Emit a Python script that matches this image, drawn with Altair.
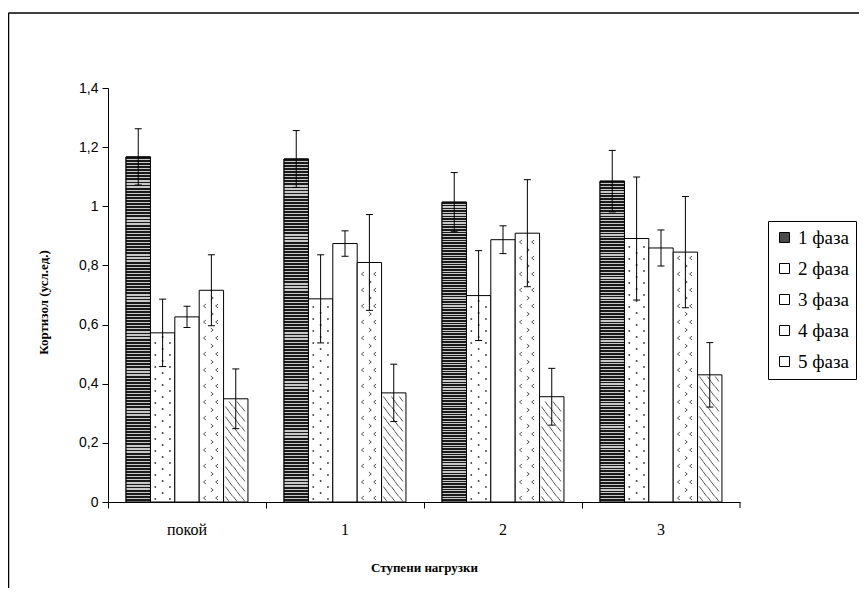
import altair as alt
import pandas as pd

# ---------------- data ----------------
stages = ["покой", "1", "2", "3"]
phases = ["1 фаза", "2 фаза", "3 фаза", "4 фаза", "5 фаза"]

phase1_mean = [1.167, 1.160, 1.014, 1.085]
phase2_mean = [0.572, 0.687, 0.698, 0.891]
phase3_mean = [0.626, 0.874, 0.887, 0.859]
phase4_mean = [0.716, 0.810, 0.909, 0.845]
phase5_mean = [0.349, 0.369, 0.356, 0.430]

phase1_err = [0.095, 0.096, 0.100, 0.104]
phase2_err = [0.114, 0.149, 0.152, 0.208]
phase3_err = [0.036, 0.043, 0.047, 0.061]
phase4_err = [0.120, 0.162, 0.181, 0.188]
phase5_err = [0.101, 0.097, 0.096, 0.109]

y_ticks = [0, 0.2, 0.4, 0.6, 0.8, 1.0, 1.2, 1.4]

all_means = [phase1_mean, phase2_mean, phase3_mean, phase4_mean, phase5_mean]
all_errs = [phase1_err, phase2_err, phase3_err, phase4_err, phase5_err]

rows = []
for p, means, errs in zip(phases, all_means, all_errs):
    for s, m, e in zip(stages, means, errs):
        rows.append({"stage": s, "phase": p, "mean": m, "lo": m - e, "hi": m + e})
df = pd.DataFrame(rows)

# ---------------- layout ----------------
W, H = 632, 414
YMAX = 1.4
PXU = H / YMAX  # pixels per unit
BAR = 24.4      # bar width in px (for texture symbol size)
SERIF = "'Liberation Serif', 'Times New Roman', Times, serif"
SANS = "'Liberation Sans', Arial, sans-serif"


def texture_rows(phase_name, step_px, start_px, margin_px):
    out = []
    sub = df[df["phase"] == phase_name]
    for _, r in sub.iterrows():
        top_px = r["mean"] * PXU - margin_px
        k = 0
        pos = start_px
        while pos < top_px:
            out.append({"stage": r["stage"], "phase": phase_name,
                        "ty": pos / PXU, "row": k % 2})
            pos += step_px
            k += 1
    return pd.DataFrame(out)


tex2 = texture_rows("2 фаза", 6, 3, 3)
tex4 = texture_rows("4 фаза", 8, 4, 5)
tex5 = texture_rows("5 фаза", 5, 3, 4)

# ---------------- encodings ----------------
x_axis = alt.Axis(bandPosition=0, tickSize=6, labelPadding=13,
                  labelFont=SERIF, labelFontSize=16, labelAngle=0,
                  titleFont=SERIF, titleFontWeight="bold", titleFontSize=13,
                  titlePadding=24, domainColor="black", tickColor="black",
                  labelColor="black", titleColor="black")
y_axis = alt.Axis(values=y_ticks, labelExpr="replace(format(datum.value, ''), '.', ',')",
                  tickSize=6, labelPadding=4, labelFont=SANS, labelFontSize=14,
                  titleFont=SERIF, titleFontWeight="bold", titleFontSize=13,
                  titlePadding=28, titleY=214, grid=False, domainColor="black",
                  tickColor="black", labelColor="black", titleColor="black")

x_scale = alt.Scale(domain=stages, paddingInner=0, paddingOuter=0)
xo_scale = alt.Scale(domain=phases, paddingInner=0, paddingOuter=0.74)
y_scale = alt.Scale(domain=[0, YMAX], nice=False, zero=True)

X = alt.X("stage:N", scale=x_scale, axis=x_axis, title="Ступени нагрузки", sort=stages)
XO = alt.XOffset("phase:N", scale=xo_scale, sort=phases)


def Y(field):
    return alt.Y(field, scale=y_scale, axis=y_axis, title="Кортизол (усл.ед.)")


bars = alt.Chart(df).mark_bar(stroke="black", strokeWidth=1, opacity=1).encode(
    x=X, xOffset=XO, y=Y("mean:Q"),
    fill=alt.Fill("phase:N", scale=alt.Scale(domain=phases,
                                             range=["#4a4a4a", "white", "white", "white", "white"]),
                  legend=alt.Legend(orient="none", legendX=660, legendY=133, title=None,
                                    symbolType="square", symbolSize=100,
                                    symbolStrokeColor="black", symbolStrokeWidth=1,
                                    labelFont=SERIF, labelFontSize=19,
                                    labelColor="black", rowPadding=11, padding=7,
                                    strokeColor="black", labelOffset=4))
)

# horizontal stripes for phase 1 (black / light grey)
N = 112
stops = []
for i in range(N):
    a, b, c = i / N, (i + 0.6) / N, (i + 1) / N
    stops += [alt.GradientStop(offset=a, color="#1a1a1a"), alt.GradientStop(offset=b, color="#1a1a1a"),
              alt.GradientStop(offset=b, color="#c8c8c8"), alt.GradientStop(offset=c, color="#c8c8c8")]
stripes = alt.Chart(df).transform_filter(alt.datum.phase == "1 фаза").mark_bar(
    stroke="black", strokeWidth=1,
    fill=alt.Gradient(gradient="linear", stops=stops, x1=0, x2=0, y1=0, y2=1)
).encode(x=X, xOffset=XO, y=Y("mean:Q"))


def sq(cx, cy, r=0.065):
    return f"M{cx - r:.3f},{cy - r:.3f}h{2 * r:.3f}v{2 * r:.3f}h{-2 * r:.3f}Z"


# texture row shapes, in [-1,1] symbol units (1 unit = BAR/2 px)
dots_even = sq(-0.6, 0) + sq(0.6, 0)
dots_odd = sq(0, 0)
chev_even = "M-0.45,-0.16L-0.65,0L-0.45,0.16M0.55,-0.16L0.35,0L0.55,0.16"
chev_odd = "M-0.05,-0.16L0.15,0L-0.05,0.16"
hatch_even = "M-0.85,-0.2L-0.55,0.2M-0.2,-0.2L0.1,0.2M0.45,-0.2L0.75,0.2"
hatch_odd = "M-0.55,-0.2L-0.25,0.2M0.1,-0.2L0.4,0.2"


def tex_layer(data, row, shape, filled, color):
    return alt.Chart(data).transform_filter(alt.datum.row == row).mark_point(
        shape=shape, size=BAR * BAR, filled=filled, color=color,
        strokeWidth=1, opacity=1).encode(x=X, xOffset=XO, y=Y("ty:Q"))


tex_layers = [
    tex_layer(tex2, 0, dots_even, True, "#222"),
    tex_layer(tex2, 1, dots_odd, True, "#222"),
    tex_layer(tex4, 0, chev_even, False, "#555"),
    tex_layer(tex4, 1, chev_odd, False, "#555"),
    tex_layer(tex5, 0, hatch_even, False, "#555"),
    tex_layer(tex5, 1, hatch_odd, False, "#555"),
]

err_rule = alt.Chart(df).mark_rule(color="black", strokeWidth=1).encode(
    x=X, xOffset=XO, y=Y("lo:Q"), y2="hi:Q")
cap_lo = alt.Chart(df).mark_tick(color="black", thickness=1, size=7, opacity=1).encode(
    x=X, xOffset=XO, y=Y("lo:Q"))
cap_hi = alt.Chart(df).mark_tick(color="black", thickness=1, size=7, opacity=1).encode(
    x=X, xOffset=XO, y=Y("hi:Q"))

one = pd.DataFrame({"d": [0]})
end_tick = alt.Chart(one).mark_rule(color="black", strokeWidth=1).encode(
    x=alt.value(W), y=alt.value(H), y2=alt.value(H + 6))
frame_top = alt.Chart(one).mark_rule(color="black", strokeWidth=1.5).encode(
    x=alt.value(-99.5), x2=alt.value(W + 300), y=alt.value(-75))
frame_left = alt.Chart(one).mark_rule(color="black", strokeWidth=1.5).encode(
    x=alt.value(-99.5), y=alt.value(-75), y2=alt.value(H + 300))

chart = alt.layer(bars, stripes, *tex_layers, err_rule, cap_lo, cap_hi,
                  end_tick, frame_top, frame_left).properties(
    width=W, height=H,
    background="white",
    padding={"left": 100, "top": 80, "right": 119, "bottom": 86},
    autosize="none",
).configure_view(stroke=None, strokeWidth=0)

chart.save("out.html", embed_options={"renderer": "svg", "actions": False})
